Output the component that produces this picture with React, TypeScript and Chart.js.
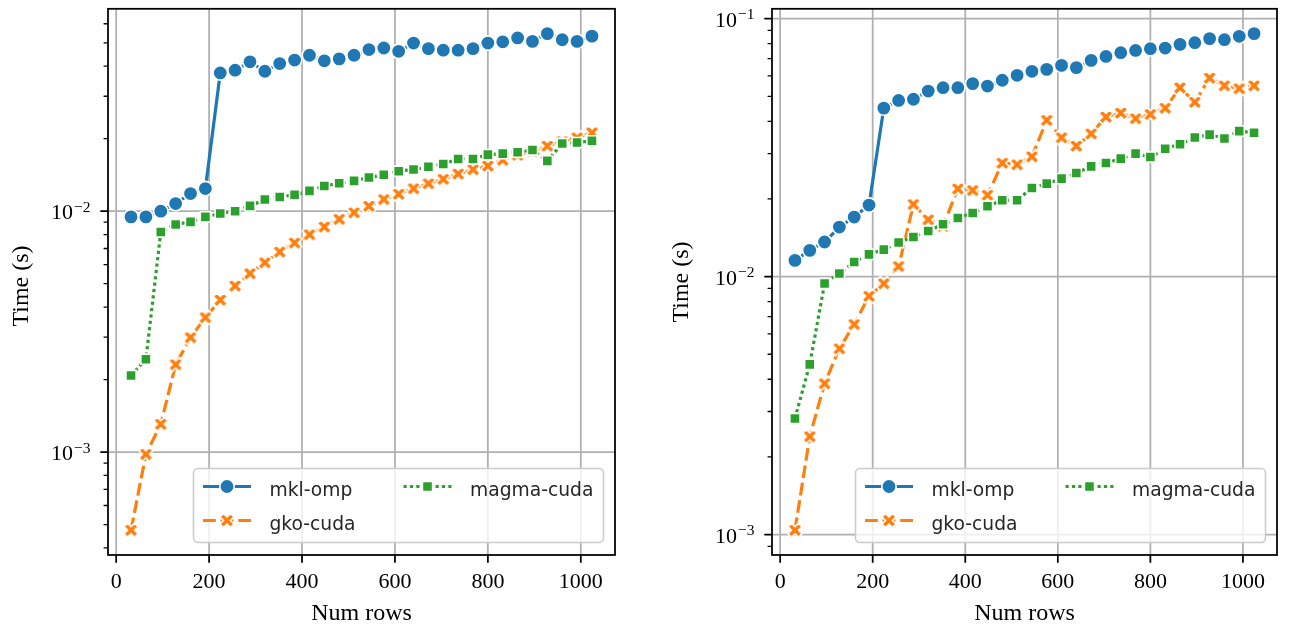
import React, { useEffect, useRef } from 'react';
import { Chart, registerables } from 'chart.js';

Chart.register(...registerables);

// ---------------- data ----------------
const NUM_ROWS = [32, 64, 96, 128, 160, 192, 224, 256, 288, 320, 352, 384, 416, 448, 480, 512,
  544, 576, 608, 640, 672, 704, 736, 768, 800, 832, 864, 896, 928, 960, 992, 1024];
const X_TICKS = [0, 200, 400, 600, 800, 1000];
const SERIES_NAMES = ['mkl-omp', 'gko-cuda', 'magma-cuda'];
const X_LABEL = 'Num rows';
const Y_LABEL = 'Time (s)';

const LEFT_MKL = [0.00947, 0.00947, 0.0100, 0.01076, 0.01184, 0.01242, 0.0375, 0.0385, 0.0417, 0.0381,
  0.0410, 0.0424, 0.0444, 0.0421, 0.0429, 0.0444, 0.0469, 0.0476, 0.0461, 0.0499, 0.0473, 0.0466,
  0.0466, 0.0473, 0.0499, 0.0505, 0.0524, 0.0507, 0.0546, 0.0515, 0.0507, 0.0533];
const LEFT_GKO = [0.000474, 0.00098, 0.001306, 0.00231, 0.00299, 0.00362, 0.00428, 0.0049, 0.00551,
  0.00612, 0.00678, 0.00739, 0.0080, 0.00861, 0.00926, 0.00987, 0.0105, 0.0112, 0.01178, 0.01242,
  0.01302, 0.01358, 0.01429, 0.0149, 0.01542, 0.0163, 0.0171, 0.0178, 0.01866, 0.0195, 0.0202, 0.0212];
const LEFT_MAGMA = [0.00208, 0.00243, 0.0082, 0.00881, 0.00903, 0.00947, 0.00978, 0.0100, 0.01052,
  0.01118, 0.01146, 0.0117, 0.01214, 0.01273, 0.01306, 0.01336, 0.0138, 0.01416, 0.01466, 0.0149,
  0.0153, 0.0157, 0.01648, 0.01648, 0.01718, 0.01734, 0.01756, 0.01795, 0.01618, 0.0191, 0.01927, 0.0196];

const RIGHT_MKL = [0.01156, 0.01264, 0.01362, 0.01556, 0.01702, 0.01894, 0.0450, 0.0482, 0.0487, 0.0524,
  0.0540, 0.0540, 0.0560, 0.0548, 0.0577, 0.0603, 0.0625, 0.0636, 0.0659, 0.0646, 0.0689, 0.0714,
  0.0738, 0.0753, 0.0765, 0.0769, 0.0795, 0.0807, 0.0837, 0.0829, 0.0854, 0.0875];
const RIGHT_GKO = [0.00104, 0.0024, 0.00385, 0.00526, 0.00653, 0.0084, 0.0094, 0.01096, 0.01906, 0.01663,
  0.0157, 0.0219, 0.0216, 0.0207, 0.02756, 0.0272, 0.0292, 0.0404, 0.0346, 0.0321, 0.0358, 0.0416,
  0.0431, 0.0410, 0.0426, 0.0450, 0.0540, 0.0475, 0.0589, 0.0550, 0.0536, 0.0550];
const RIGHT_MAGMA = [0.00282, 0.00457, 0.0094, 0.01028, 0.0114, 0.0122, 0.01272, 0.01355, 0.01424,
  0.01503, 0.01595, 0.01687, 0.01764, 0.01873, 0.01977, 0.01977, 0.02205, 0.02293, 0.02399, 0.02523,
  0.02676, 0.02756, 0.02866, 0.02997, 0.02907, 0.03133, 0.03258, 0.0346, 0.03551, 0.0343, 0.03666, 0.0361];

// ---------------- style ----------------
const BLUE = '#1f77b4';
const ORANGE = '#ff7f0e';
const GREEN = '#2ca02c';
const GRID = '#b0b0b0';
const LW = 3.2;
const MARKER_R = 7.2;
const MARKER_EDGE = 1.6;
const X_MS = 15;
const TICK_FONT = '22px "Liberation Serif", "DejaVu Serif", serif';
const SUP_FONT = '15.5px "Liberation Serif", "DejaVu Serif", serif';
const LABEL_FONT = '24px "Liberation Serif", "DejaVu Serif", serif';
const LEGEND_FONT = '18.7px "DejaVu Sans", sans-serif';
const H = 628;

type Kind = 'circle' | 'rect' | 'x';

function drawXShape(ctx: CanvasRenderingContext2D, cx: number, cy: number, ms: number, color: string) {
  const base = [[-1, -3], [1, -3], [1, -1], [3, -1], [3, 1], [1, 1], [1, 3], [-1, 3], [-1, 1], [-3, 1], [-3, -1], [-1, -1]];
  const c = Math.cos(Math.PI / 4);
  const s = Math.sin(Math.PI / 4);
  ctx.beginPath();
  base.forEach(([px, py], i) => {
    const ux = (px / 6) * ms;
    const uy = (py / 6) * ms;
    const rx = ux * c - uy * s;
    const ry = ux * s + uy * c;
    if (i === 0) ctx.moveTo(cx + rx, cy + ry);
    else ctx.lineTo(cx + rx, cy + ry);
  });
  ctx.closePath();
  ctx.fillStyle = color;
  ctx.fill();
  ctx.lineJoin = 'miter';
  ctx.strokeStyle = '#ffffff';
  ctx.lineWidth = MARKER_EDGE;
  ctx.stroke();
}

function makeXMarker(color: string) {
  const c = document.createElement('canvas');
  c.width = 22;
  c.height = 22;
  const ctx = c.getContext('2d')!;
  drawXShape(ctx, 11, 11, X_MS, color);
  return c;
}

function drawMarker(ctx: CanvasRenderingContext2D, kind: Kind, x: number, y: number, color: string) {
  ctx.save();
  ctx.setLineDash([]);
  if (kind === 'x') {
    drawXShape(ctx, x, y, X_MS, color);
  } else {
    ctx.beginPath();
    if (kind === 'circle') ctx.arc(x, y, MARKER_R, 0, Math.PI * 2);
    else {
      const h = MARKER_R * Math.SQRT1_2;
      ctx.rect(x - h, y - h, 2 * h, 2 * h);
    }
    ctx.fillStyle = color;
    ctx.fill();
    ctx.strokeStyle = '#ffffff';
    ctx.lineWidth = MARKER_EDGE;
    ctx.stroke();
  }
  ctx.restore();
}

function logLimits(vals: number[]) {
  const lo = Math.log10(Math.min(...vals));
  const hi = Math.log10(Math.max(...vals));
  const m = (hi - lo) * 0.05;
  return [Math.pow(10, lo - m), Math.pow(10, hi + m)];
}

function linLimits(vals: number[]) {
  const lo = Math.min(...vals);
  const hi = Math.max(...vals);
  const m = (hi - lo) * 0.05;
  return [lo - m, hi + m];
}

type PanelSpec = {
  offsetX: number;
  width: number;
  area: { l: number; r: number; t: number; b: number };
  yTitleX: number;
  yTitleY: number;
  mkl: number[];
  gko: number[];
  magma: number[];
};

const PANELS: PanelSpec[] = [
  { offsetX: 0, width: 650, area: { l: 108, r: 615, t: 8, b: 555 }, yTitleX: 28, yTitleY: 286,
    mkl: LEFT_MKL, gko: LEFT_GKO, magma: LEFT_MAGMA },
  { offsetX: 650, width: 653, area: { l: 122, r: 627, t: 8, b: 555 }, yTitleX: 38, yTitleY: 282,
    mkl: RIGHT_MKL, gko: RIGHT_GKO, magma: RIGHT_MAGMA },
];

function Panel({ spec }: { spec: PanelSpec }) {
  const ref = useRef<HTMLCanvasElement>(null);

  useEffect(() => {
    const canvas = ref.current!;
    const xMarker = makeXMarker(ORANGE);
    const [yMin, yMax] = logLimits([...spec.mkl, ...spec.gko, ...spec.magma]);
    const [xMin, xMax] = linLimits(NUM_ROWS);

    const series = [
      { name: SERIES_NAMES[0], vals: spec.mkl, color: BLUE, dash: [] as number[], kind: 'circle' as Kind, order: 2 },
      { name: SERIES_NAMES[1], vals: spec.gko, color: ORANGE, dash: [4 * LW, 1.5 * LW], kind: 'x' as Kind, order: 1 },
      { name: SERIES_NAMES[2], vals: spec.magma, color: GREEN, dash: [LW, LW], kind: 'rect' as Kind, order: 0 },
    ];

    const decades = () => {
      const out: number[] = [];
      for (let e = Math.floor(Math.log10(yMin)); e <= Math.ceil(Math.log10(yMax)); e++) {
        const v = Math.pow(10, e);
        if (v >= yMin && v <= yMax) out.push(e);
      }
      return out;
    };

    const axesPlugin = {
      id: 'mplAxes',
      beforeDatasetsDraw(chart: any) {
        const { ctx, chartArea: a, scales } = chart;
        ctx.save();
        ctx.beginPath();
        ctx.rect(a.left, a.top, a.right - a.left, a.bottom - a.top);
        ctx.clip();
        ctx.strokeStyle = GRID;
        ctx.lineWidth = 1.76;
        ctx.beginPath();
        for (const t of X_TICKS) {
          const px = scales.x.getPixelForValue(t);
          ctx.moveTo(px, a.top);
          ctx.lineTo(px, a.bottom);
        }
        for (const e of decades()) {
          const py = scales.y.getPixelForValue(Math.pow(10, e));
          ctx.moveTo(a.left, py);
          ctx.lineTo(a.right, py);
        }
        ctx.stroke();
        ctx.restore();
      },
      afterDraw(chart: any) {
        const { ctx, chartArea: a, scales } = chart;
        ctx.save();
        // spines
        ctx.strokeStyle = '#000';
        ctx.lineWidth = 1.76;
        ctx.strokeRect(a.left, a.top, a.right - a.left, a.bottom - a.top);

        // x ticks and labels
        ctx.beginPath();
        for (const t of X_TICKS) {
          const px = scales.x.getPixelForValue(t);
          ctx.moveTo(px, a.bottom);
          ctx.lineTo(px, a.bottom + 7.7);
        }
        ctx.stroke();
        ctx.fillStyle = '#000';
        ctx.font = TICK_FONT;
        ctx.textAlign = 'center';
        ctx.textBaseline = 'alphabetic';
        for (const t of X_TICKS) {
          const px = scales.x.getPixelForValue(t);
          ctx.fillText(String(t), px, a.bottom + 33);
        }

        // y ticks (major + minor)
        ctx.beginPath();
        for (const e of decades()) {
          const py = scales.y.getPixelForValue(Math.pow(10, e));
          ctx.moveTo(a.left, py);
          ctx.lineTo(a.left - 7.7, py);
        }
        ctx.lineWidth = 1.76;
        ctx.stroke();
        ctx.beginPath();
        for (let e = Math.floor(Math.log10(yMin)); e <= Math.ceil(Math.log10(yMax)); e++) {
          for (let m = 2; m <= 9; m++) {
            const v = m * Math.pow(10, e);
            if (v < yMin || v > yMax) continue;
            const py = scales.y.getPixelForValue(v);
            ctx.moveTo(a.left, py);
            ctx.lineTo(a.left - 4.4, py);
          }
        }
        ctx.lineWidth = 1.3;
        ctx.stroke();

        // y tick labels 10^e
        ctx.textAlign = 'right';
        for (const e of decades()) {
          const py = scales.y.getPixelForValue(Math.pow(10, e));
          const sup = '\u2212' + Math.abs(e);
          const rx = a.left - 17.5;
          ctx.font = SUP_FONT;
          const supW = ctx.measureText(sup).width;
          ctx.fillText(sup, rx, py + 0.5);
          ctx.font = TICK_FONT;
          ctx.fillText('10', rx - supW - 1, py + 8);
        }

        // axis titles
        ctx.font = LABEL_FONT;
        ctx.textAlign = 'center';
        ctx.fillText(X_LABEL, (a.left + a.right) / 2, a.bottom + 65);
        ctx.save();
        ctx.translate(spec.yTitleX, spec.yTitleY);
        ctx.rotate(-Math.PI / 2);
        ctx.fillText(Y_LABEL, 0, 0);
        ctx.restore();

        // legend
        const bw = 410;
        const bh = 74;
        const bx = a.right - 11.5 - bw;
        const by = a.bottom - 12.5 - bh;
        ctx.beginPath();
        ctx.roundRect(bx, by, bw, bh, 4.5);
        ctx.fillStyle = 'rgba(255,255,255,0.8)';
        ctx.fill();
        ctx.strokeStyle = '#cccccc';
        ctx.lineWidth = 1.6;
        ctx.stroke();
        series.forEach((s, i) => {
          const col = i === 2 ? 1 : 0;
          const row = i === 2 ? 0 : i;
          const ry = by + 18 + row * 34;
          const mx = bx + 33.5 + col * 200.5;
          ctx.save();
          ctx.strokeStyle = s.color;
          ctx.lineWidth = LW;
          ctx.setLineDash(s.dash);
          ctx.beginPath();
          ctx.moveTo(mx - 24, ry);
          ctx.lineTo(mx + 24, ry);
          ctx.stroke();
          ctx.restore();
          drawMarker(ctx, s.kind, mx, ry, s.color);
          ctx.fillStyle = '#262626';
          ctx.font = LEGEND_FONT;
          ctx.textAlign = 'left';
          ctx.textBaseline = 'alphabetic';
          ctx.fillText(s.name, bx + 76 + col * 200.5, ry + 9);
        });
        ctx.restore();
      },
    };

    const chart = new Chart(canvas, {
      type: 'line',
      data: {
        datasets: series.map((s) => ({
          label: s.name,
          data: NUM_ROWS.map((x, i) => ({ x, y: s.vals[i] })),
          borderColor: s.color,
          backgroundColor: s.color,
          borderWidth: LW,
          borderDash: s.dash,
          borderCapStyle: 'butt',
          fill: false,
          tension: 0,
          order: s.order,
          pointStyle: s.kind === 'x' ? xMarker : s.kind,
          pointRadius: MARKER_R,
          pointBackgroundColor: s.color,
          pointBorderColor: '#ffffff',
          pointBorderWidth: MARKER_EDGE,
          pointHoverRadius: MARKER_R,
        })),
      },
      options: {
        responsive: false,
        animation: false,
        devicePixelRatio: 1,
        events: [],
        layout: { padding: { top: spec.area.t, left: 0, right: spec.width - spec.area.r, bottom: 0 } },
        plugins: { legend: { display: false }, tooltip: { enabled: false }, title: { display: false } },
        scales: {
          x: {
            type: 'linear',
            min: xMin,
            max: xMax,
            bounds: 'data',
            grid: { display: false },
            border: { display: false },
            ticks: { display: false, stepSize: 200, includeBounds: false },
            afterFit: (s: any) => { s.height = H - spec.area.b; },
          },
          y: {
            type: 'logarithmic',
            min: yMin,
            max: yMax,
            bounds: 'data',
            grid: { display: false },
            border: { display: false },
            ticks: { display: false },
            afterFit: (s: any) => { s.width = spec.area.l; },
          },
        },
      } as any,
      plugins: [axesPlugin],
    });
    return () => chart.destroy();
  }, [spec]);

  return (
    <canvas
      ref={ref}
      width={spec.width}
      height={H}
      style={{ position: 'absolute', left: spec.offsetX, top: 0, width: spec.width, height: H }}
    />
  );
}

export default function App() {
  return (
    <div style={{ position: 'fixed', left: 0, top: 0, width: 1303, height: H, background: '#ffffff', overflow: 'hidden' }}>
      {PANELS.map((p, i) => (
        <Panel key={i} spec={p} />
      ))}
    </div>
  );
}
